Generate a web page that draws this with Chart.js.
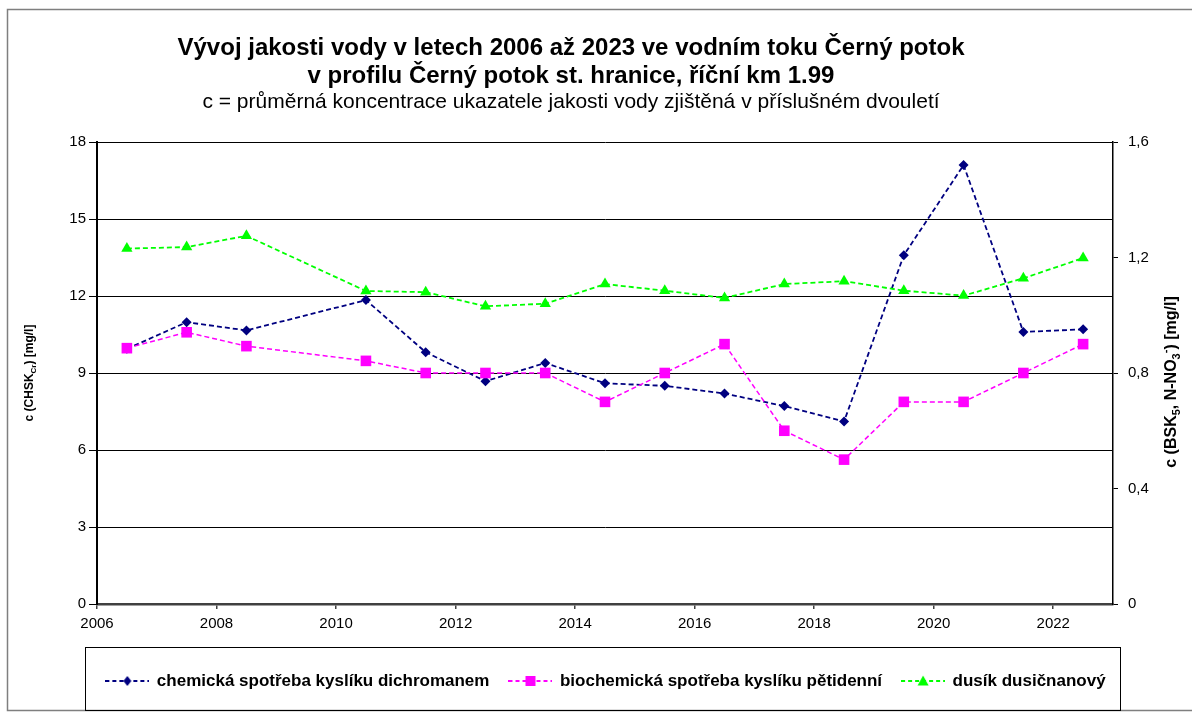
<!DOCTYPE html>
<html>
<head>
<meta charset="utf-8">
<script src="https://cdn.jsdelivr.net/npm/chart.js@4/dist/chart.umd.min.js"></script>
<style>
  html, body { margin: 0; padding: 0; background: #fff; }
  #wrap { position: relative; width: 1192px; height: 712px; }
</style>
</head>
<body>
<div id="wrap"><canvas id="c"></canvas></div>
<script>
// ---- data ----
const years = [2006.5, 2007.5, 2008.5, 2010.5, 2011.5, 2012.5, 2013.5, 2014.5, 2015.5, 2016.5, 2017.5, 2018.5, 2019.5, 2020.5, 2021.5, 2022.5];
const chskValues = [9.94, 10.98, 10.66, 11.84, 9.81, 8.68, 9.39, 8.60, 8.50, 8.20, 7.71, 7.11, 13.59, 17.10, 10.60, 10.70];
const bskValues = [0.886, 0.941, 0.893, 0.842, 0.80, 0.80, 0.80, 0.70, 0.80, 0.90, 0.60, 0.50, 0.70, 0.70, 0.80, 0.90];
const nno3Values = [1.231, 1.236, 1.275, 1.084, 1.080, 1.031, 1.040, 1.108, 1.085, 1.060, 1.108, 1.118, 1.085, 1.068, 1.128, 1.198];
const seriesNames = ['chemická spotřeba kyslíku dichromanem', 'biochemická spotřeba kyslíku pětidenní', 'dusík dusičnanový'];
const xTicks = [2006, 2008, 2010, 2012, 2014, 2016, 2018, 2020, 2022];
const leftTicks = [0, 3, 6, 9, 12, 15, 18];
const rightTicks = [0, 0.4, 0.8, 1.2, 1.6];
const titleLines = ['Vývoj jakosti vody v letech 2006 až 2023 ve vodním toku Černý potok', 'v profilu Černý potok st. hranice, říční km 1.99'];
const subtitleText = 'c = průměrná koncentrace ukazatele jakosti vody zjištěná v příslušném dvouletí';
const leftTitleParts = [['c (CHSK', 'n'], ['Cr', 'sub'], [') [mg/l]', 'n']];
const rightTitleParts = [['c (BSK', 'n'], ['5', 'sub'], [', N-NO', 'n'], ['3', 'sub'], ['-', 'sup'], [') [mg/l]', 'n']];

const FONT = "'Liberation Sans', Arial, sans-serif";
const colors = ['#000080', '#ff00ff', '#00ff00'];
const styles = ['rectRot', 'rect', 'triangle'];
const radii = [5, 7.5, 6.5];

function pts(vals) { return years.map((x, i) => ({ x: x, y: vals[i] })); }

function legendImage(i) {
  const cv = document.createElement('canvas');
  cv.width = 44; cv.height = 14;
  const g = cv.getContext('2d');
  g.strokeStyle = colors[i]; g.lineWidth = 2; g.setLineDash([4, 3]);
  g.beginPath(); g.moveTo(0, 7); g.lineTo(44, 7); g.stroke();
  g.setLineDash([]); g.fillStyle = colors[i];
  g.beginPath();
  if (i === 0) { g.moveTo(22, 2); g.lineTo(26, 7); g.lineTo(22, 12); g.lineTo(18, 7); }
  else if (i === 1) { g.rect(17, 2, 10, 10); }
  else { g.moveTo(22, 1.5); g.lineTo(27.5, 11.5); g.lineTo(16.5, 11.5); }
  g.closePath(); g.fill();
  return cv;
}

function drawRich(ctx, parts, cx, cy, size) {
  const small = Math.round(size * 0.68);
  ctx.save();
  ctx.translate(cx, cy);
  ctx.rotate(-Math.PI / 2);
  ctx.fillStyle = '#000';
  ctx.textBaseline = 'middle';
  ctx.textAlign = 'left';
  let total = 0;
  const widths = parts.map(([t, k]) => {
    ctx.font = 'bold ' + (k === 'n' ? size : small) + 'px ' + FONT;
    const w = ctx.measureText(t).width;
    total += w; return w;
  });
  let x = -total / 2;
  parts.forEach(([t, k], i) => {
    ctx.font = 'bold ' + (k === 'n' ? size : small) + 'px ' + FONT;
    const dy = k === 'sub' ? size * 0.3 : (k === 'sup' ? -size * 0.35 : 0);
    ctx.fillText(t, x, dy);
    x += widths[i];
  });
  ctx.restore();
}

// the titles in the reference are centred ~35px left of the legend/plot centre
const titleShiftPlugin = {
  id: 'titleShift',
  afterInit(chart) {
    if (!chart.titleBlock) return;
    const TitleClass = chart.titleBlock.constructor;
    chart.boxes.forEach(b => {
      if (b instanceof TitleClass && !b._shifted) {
        const orig = b.draw.bind(b);
        b._shifted = true;
        b.draw = function () {
          const c = this.ctx;
          c.save(); c.translate(-35, 0); orig(); c.restore();
        };
      }
    });
  }
};

const decorPlugin = {
  id: 'decor',
  beforeDraw(chart) {
    const ctx = chart.ctx;
    ctx.save();
    ctx.fillStyle = '#fff';
    ctx.fillRect(0, 0, chart.width, chart.height);
    ctx.strokeStyle = '#7f7f7f';
    ctx.lineWidth = 1.5;
    ctx.strokeRect(7.5, 9.5, 1200, 701);
    ctx.restore();
  },
  afterDraw(chart) {
    const ctx = chart.ctx;
    ctx.save();
    ctx.strokeStyle = '#000';
    ctx.lineWidth = 1;
    ctx.strokeRect(85.5, 647.5, 1035, 63);
    ctx.restore();
    const area = chart.chartArea;
    drawRich(ctx, leftTitleParts, 30, (area.top + area.bottom) / 2, 12);
    drawRich(ctx, rightTitleParts, 1172, (area.top + area.bottom) / 2 + 9, 16);
  }
};

const datasets = [chskValues, bskValues, nno3Values].map((vals, i) => ({
  label: seriesNames[i],
  data: pts(vals),
  yAxisID: i === 0 ? 'y' : 'y1',
  borderColor: colors[i],
  backgroundColor: colors[i],
  borderWidth: i === 1 ? 1.5 : 1.8,
  borderDash: [5, 3],
  pointStyle: styles[i],
  pointRadius: radii[i],
  pointBorderWidth: 0,
  pointBackgroundColor: colors[i],
  tension: 0,
  order: 3 - i
}));

new Chart(document.getElementById('c'), {
  type: 'line',
  data: { datasets: datasets },
  plugins: [titleShiftPlugin, decorPlugin],
  options: {
    responsive: true,
    maintainAspectRatio: false,
    animation: false,
    layout: { padding: { left: 20, right: 0, top: 20, bottom: 12.5 } },
    plugins: {
      tooltip: { enabled: false },
      title: {
        display: true,
        text: titleLines,
        color: '#000',
        font: { family: FONT, size: 24, weight: 'bold', lineHeight: 28 / 24 },
        padding: { top: 14, bottom: 0 }
      },
      subtitle: {
        display: true,
        text: subtitleText,
        color: '#000',
        font: { family: FONT, size: 21, weight: 'normal', lineHeight: 22 / 21 },
        padding: { top: 1, bottom: 29 }
      },
      legend: {
        position: 'bottom',
        labels: {
          color: '#000',
          font: { family: FONT, size: 17, weight: 'bold' },
          usePointStyle: true,
          pointStyleWidth: 42,
          boxHeight: 15,
          padding: 20,
          generateLabels(chart) {
            return chart.data.datasets.map((ds, i) => ({
              text: ds.label,
              fillStyle: colors[i],
              strokeStyle: colors[i],
              lineWidth: 0,
              pointStyle: legendImage(i),
              datasetIndex: i,
              hidden: false,
              fontColor: '#000'
            }));
          }
        }
      }
    },
    scales: {
      x: {
        type: 'linear',
        min: 2006,
        max: 2023,
        afterBuildTicks(scale) { scale.ticks = xTicks.map(v => ({ value: v })); },
        afterFit(scale) { scale.height = 48.5; },
        ticks: {
          color: '#000',
          font: { family: FONT, size: 15 },
          padding: 6,
          maxRotation: 0,
          autoSkip: false,
          callback: v => String(v)
        },
        grid: { drawOnChartArea: false, drawTicks: true, tickLength: 5, color: '#404040', lineWidth: 1.5 },
        border: { display: true, color: '#404040', width: 2.5 }
      },
      y: {
        position: 'left',
        min: 0,
        max: 18,
        afterBuildTicks(scale) { scale.ticks = leftTicks.map(v => ({ value: v })); },
        afterFit(scale) { scale.width = 77; },
        ticks: { color: '#000', font: { family: FONT, size: 15 }, padding: 3, callback: v => String(v) },
        grid: { drawOnChartArea: true, drawTicks: true, tickLength: 8, color: '#000', lineWidth: 1 },
        border: { display: true, color: '#000', width: 2 }
      },
      y1: {
        position: 'right',
        min: 0,
        max: 1.6,
        afterBuildTicks(scale) { scale.ticks = rightTicks.map(v => ({ value: v })); },
        afterFit(scale) { scale.width = 79; },
        ticks: {
          color: '#000',
          font: { family: FONT, size: 15 },
          padding: 10,
          callback: v => (v === 0 ? '0' : (Math.round(v * 10) / 10).toFixed(1).replace('.', ','))
        },
        grid: { drawOnChartArea: false, drawTicks: true, tickLength: 5, color: '#000', lineWidth: 1 },
        border: { display: true, color: '#000', width: 1.5 }
      }
    }
  }
});
</script>
</body>
</html>
